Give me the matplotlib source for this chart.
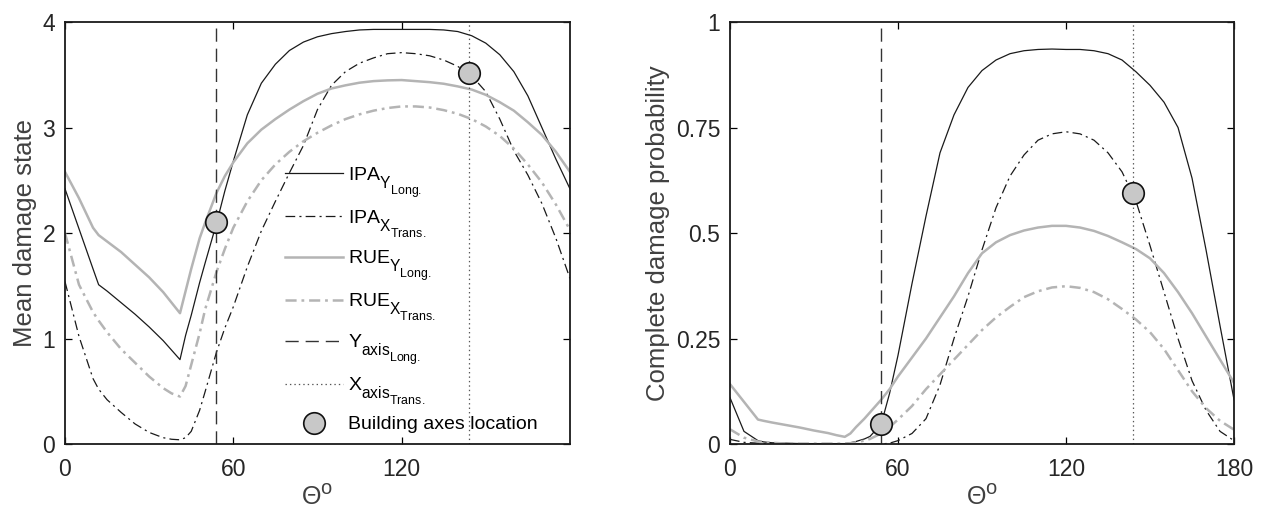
import matplotlib
matplotlib.use("Agg")
import matplotlib.pyplot as plt
import matplotlib._mathtext as mathtext_core

# angle grid (deg) shared by every series
theta = [0, 5, 10, 12, 15, 20, 25, 30, 35, 38, 41, 43, 45, 48, 50, 54, 57, 60, 65, 70,
         75, 80, 85, 90, 95, 100, 105, 110, 115, 120, 125, 130, 135, 140, 145, 150, 155, 160,
         165, 170, 175, 180]

# mean damage state (left panel)
mds_ipa_y = [2.42, 2.04, 1.66, 1.51, 1.45, 1.34, 1.23, 1.11, 0.98, 0.89, 0.80, 1.03, 1.22, 1.53, 1.72,
             2.09, 2.40, 2.68, 3.12, 3.42, 3.60, 3.73, 3.81, 3.86, 3.89, 3.91, 3.925, 3.93, 3.93, 3.93,
             3.93, 3.93, 3.925, 3.91, 3.87, 3.80, 3.69, 3.53, 3.30, 3.00, 2.70, 2.42]
mds_ipa_x = [1.54, 1.02, 0.62, 0.52, 0.42, 0.30, 0.19, 0.11, 0.06, 0.045, 0.04, 0.06, 0.12, 0.32, 0.50,
             0.87, 1.10, 1.30, 1.68, 2.02, 2.30, 2.57, 2.83, 3.17, 3.40, 3.53, 3.61, 3.66, 3.70, 3.71,
             3.70, 3.68, 3.64, 3.58, 3.49, 3.34, 3.08, 2.78, 2.55, 2.28, 1.95, 1.57]
mds_rue_y = [2.58, 2.33, 2.05, 1.98, 1.92, 1.82, 1.70, 1.58, 1.44, 1.34, 1.24, 1.45, 1.66, 1.95, 2.10,
             2.38, 2.54, 2.67, 2.85, 2.98, 3.08, 3.17, 3.25, 3.32, 3.37, 3.40, 3.425, 3.44, 3.447, 3.45,
             3.44, 3.43, 3.415, 3.39, 3.36, 3.31, 3.24, 3.16, 3.05, 2.93, 2.77, 2.58]
mds_rue_x = [2.00, 1.51, 1.25, 1.17, 1.06, 0.90, 0.77, 0.64, 0.53, 0.48, 0.45, 0.55, 0.75, 1.05, 1.28,
             1.63, 1.85, 2.05, 2.30, 2.50, 2.65, 2.77, 2.87, 2.95, 3.02, 3.08, 3.125, 3.16, 3.185, 3.20,
             3.20, 3.19, 3.165, 3.13, 3.08, 3.01, 2.92, 2.80, 2.65, 2.48, 2.27, 2.03]

# complete damage probability (right panel)
cdp_ipa_y = [0.11, 0.03, 0.008, 0.005, 0.003, 0.002, 0.001, 0.001, 0.001, 0.001, 0.001, 0.003, 0.006,
             0.012, 0.018, 0.047, 0.12, 0.21, 0.38, 0.54, 0.69, 0.78, 0.845, 0.885, 0.91, 0.925, 0.932,
             0.935, 0.936, 0.935, 0.935, 0.932, 0.925, 0.91, 0.882, 0.85, 0.81, 0.75, 0.63, 0.46, 0.28,
             0.105]
cdp_ipa_x = [0.011, 0.004, 0.002, 0.001, 0.0, 0.0, 0.0, 0.0, 0.0, 0.0, 0.0, 0.0, 0.0, 0.0, 0.0,
             0.0, 0.002, 0.008, 0.025, 0.06, 0.14, 0.25, 0.35, 0.46, 0.56, 0.635, 0.685, 0.72, 0.735,
             0.74, 0.735, 0.72, 0.69, 0.645, 0.575, 0.47, 0.36, 0.25, 0.15, 0.08, 0.03, 0.008]
cdp_rue_y = [0.142, 0.10, 0.058, 0.055, 0.051, 0.045, 0.039, 0.032, 0.026, 0.021, 0.017, 0.025, 0.04,
             0.06, 0.075, 0.105, 0.13, 0.16, 0.205, 0.25, 0.30, 0.35, 0.405, 0.452, 0.478, 0.495, 0.506,
             0.513, 0.517, 0.517, 0.513, 0.505, 0.493, 0.478, 0.462, 0.44, 0.405, 0.36, 0.31, 0.255,
             0.20, 0.145]
cdp_rue_x = [0.035, 0.015, 0.006, 0.005, 0.003, 0.001, 0.001, 0.001, 0.001, 0.001, 0.001, 0.002, 0.004,
             0.008, 0.012, 0.025, 0.04, 0.058, 0.09, 0.13, 0.165, 0.20, 0.235, 0.27, 0.30, 0.325, 0.348,
             0.362, 0.371, 0.374, 0.37, 0.36, 0.343, 0.32, 0.295, 0.265, 0.225, 0.175, 0.125, 0.085,
             0.055, 0.034]

# building axes
y_axis_theta = 54
x_axis_theta = 144
mds_marks = [2.10, 3.52]
cdp_marks = [0.047, 0.595]

labels = ["IPA$_{Y_{Long.}}$", "IPA$_{X_{Trans.}}$", "RUE$_{Y_{Long.}}$", "RUE$_{X_{Trans.}}$",
          "Y$_{axis_{Long.}}$", "X$_{axis_{Trans.}}$", "Building axes location"]

plt.rcParams['font.family'] = ['Liberation Sans', 'DejaVu Sans']
plt.rcParams['mathtext.fontset'] = 'custom'
plt.rcParams['mathtext.rm'] = 'Liberation Sans'
plt.rcParams['mathtext.it'] = 'Liberation Sans:italic'
plt.rcParams['mathtext.default'] = 'regular'
plt.rcParams['lines.scale_dashes'] = False
# subscripts in the original are bigger and sit lower than mathtext's defaults
mathtext_core.SHRINK_FACTOR = 0.8
mathtext_core.FontConstantsBase.sub1 = 0.8

BLACK = "#1a1a1a"
GREY = "#b4b4b4"
DASHDOT = (0, (7, 3, 1.5, 3))
GREY_DASHDOT = (0, (8, 3.5, 2, 3.5))


def draw_panel(ax, series, marks, ylim, yticks, yticklabels, xticks, ylabel, with_legend=False):
    ipa_y, ipa_x, rue_y, rue_x = series
    ax.plot(theta, ipa_y, color=BLACK, lw=0.9, label=labels[0])
    ax.plot(theta, ipa_x, color=BLACK, lw=0.9, linestyle=DASHDOT, label=labels[1])
    ax.plot(theta, rue_y, color=GREY, lw=1.8, label=labels[2])
    ax.plot(theta, rue_x, color=GREY, lw=1.8, linestyle=GREY_DASHDOT, label=labels[3])
    ax.axvline(y_axis_theta, color="#333333", lw=1.0, linestyle=(0, (9.5, 5)), label=labels[4])
    ax.axvline(x_axis_theta, color="#555555", lw=0.9, linestyle=(0, (1, 2.2)), label=labels[5])
    ax.plot([y_axis_theta, x_axis_theta], marks, linestyle="none", marker="o", markersize=15.5,
            markerfacecolor="#c8c8c8", markeredgecolor="#111111", markeredgewidth=1.2,
            label=labels[6])

    ax.set_xlim(0, 180)
    ax.set_ylim(*ylim)
    ax.set_xticks(xticks)
    ax.set_yticks(yticks)
    ax.set_yticklabels(yticklabels)
    ax.tick_params(direction="in", top=True, right=True, length=5, width=0.9,
                   labelsize=16.5, labelcolor="#262626")
    ax.tick_params(axis="x", pad=10)
    ax.tick_params(axis="y", pad=7)
    for s in ax.spines.values():
        s.set_linewidth(1.3)
        s.set_color("#1a1a1a")
    ax.set_xlabel("$\\Theta^{o}$", fontsize=18, color="#404040", labelpad=2)
    ax.set_ylabel(ylabel, fontsize=18.5, color="#404040", labelpad=4)

    if with_legend:
        ax.legend(loc="upper left", bbox_to_anchor=(0.435, 0.662), frameon=False, fontsize=14,
                  handlelength=3.0, handletextpad=0.25, labelspacing=0.45, borderpad=0,
                  borderaxespad=0)


fig = plt.figure(figsize=(12.64, 5.16), dpi=100)
ax1 = fig.add_axes([0.0514, 0.1395, 0.3995, 0.8178])
ax2 = fig.add_axes([0.5775, 0.1395, 0.3988, 0.8178])

draw_panel(ax1, (mds_ipa_y, mds_ipa_x, mds_rue_y, mds_rue_x), mds_marks, (0, 4),
           [0, 1, 2, 3, 4], ["0", "1", "2", "3", "4"], [0, 60, 120],
           "Mean damage state", with_legend=True)
draw_panel(ax2, (cdp_ipa_y, cdp_ipa_x, cdp_rue_y, cdp_rue_x), cdp_marks, (0, 1),
           [0, 0.25, 0.5, 0.75, 1], ["0", "0.25", "0.5", "0.75", "1"], [0, 60, 120, 180],
           "Complete damage probability")

fig.savefig("out.png", dpi=100)
